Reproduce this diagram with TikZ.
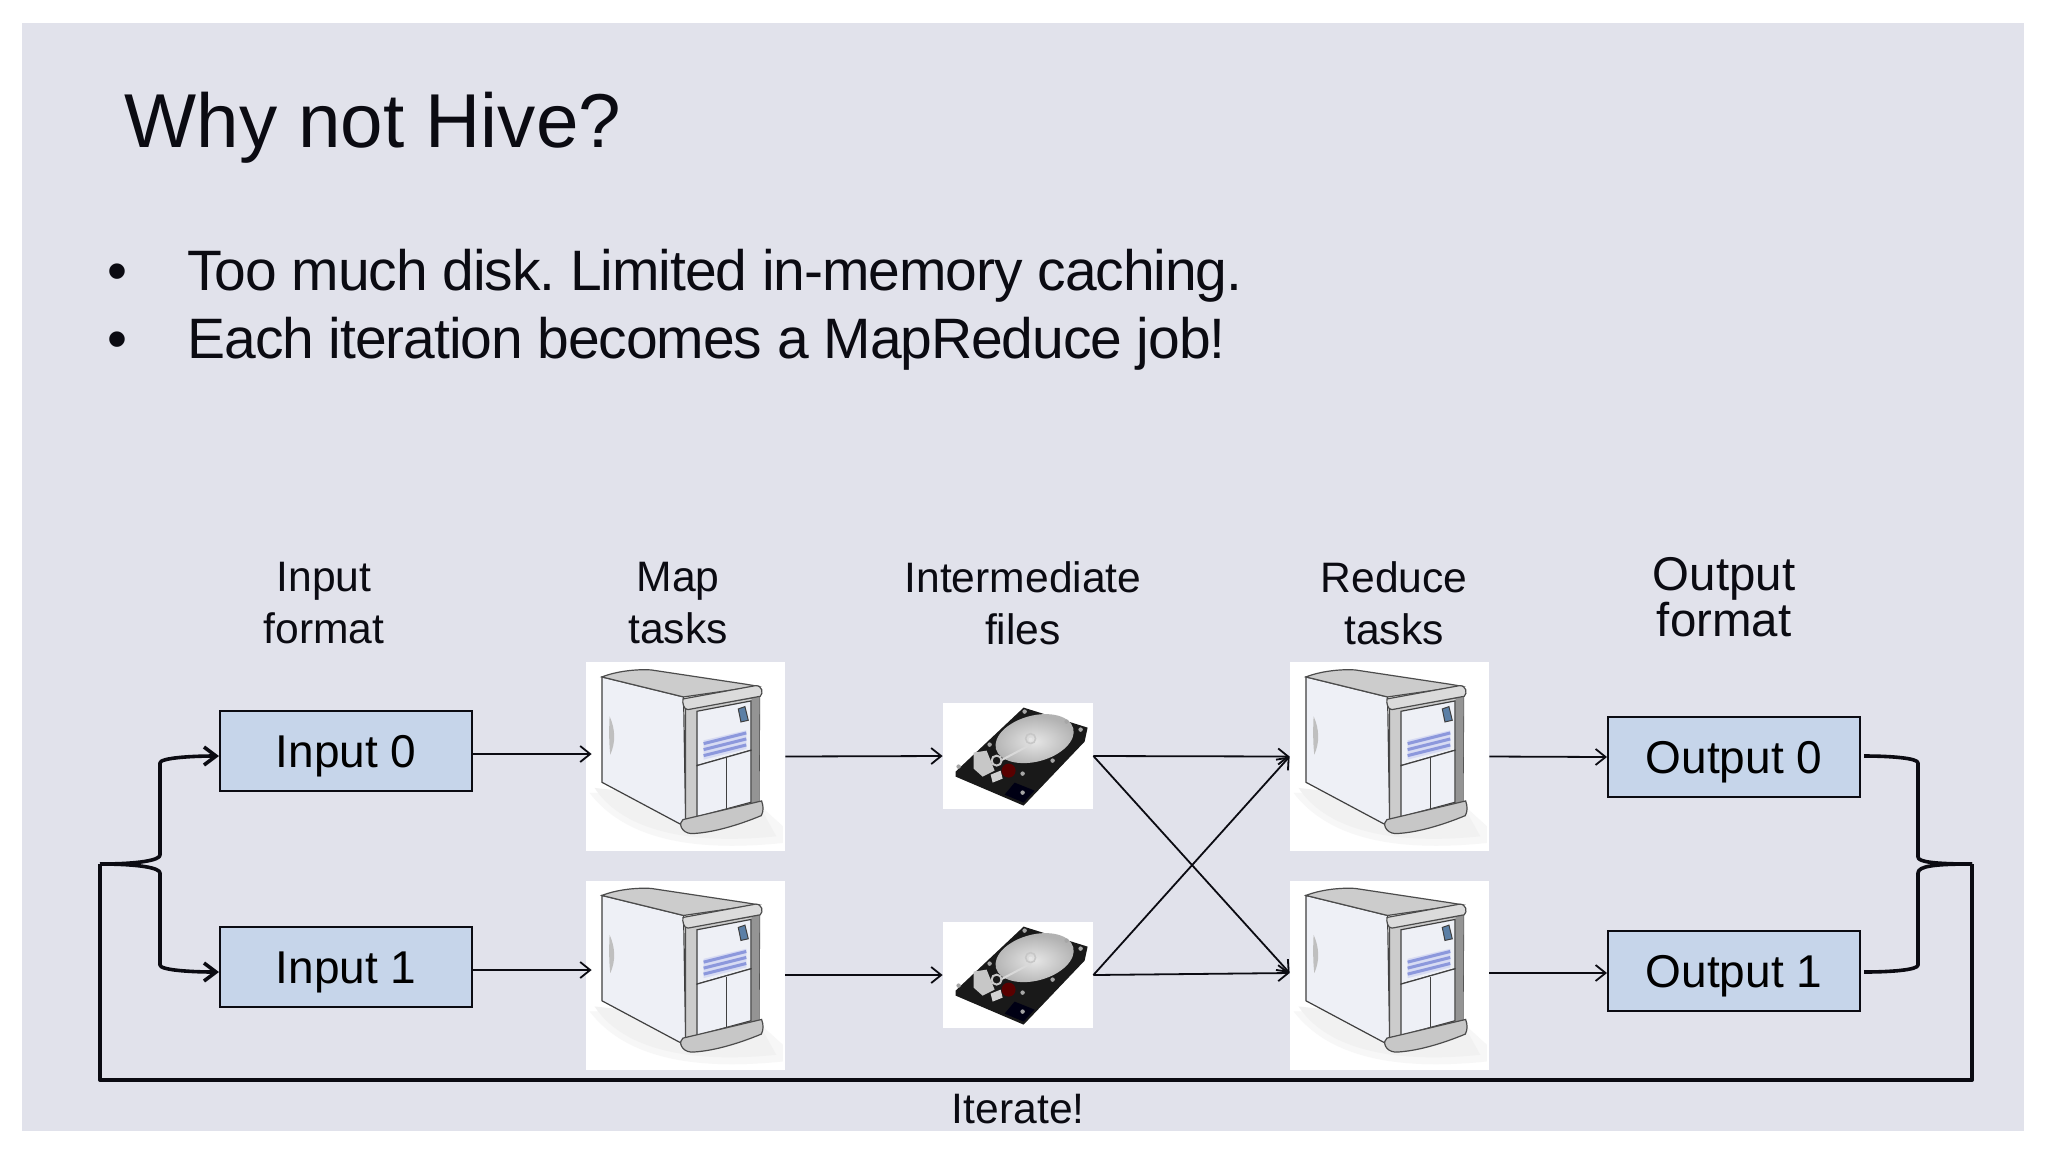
\documentclass[tikz,border=0pt]{standalone}
\usepackage{fontspec}
\setmainfont{Liberation Sans}
\usetikzlibrary{arrows.meta,positioning}
\frenchspacing

\definecolor{slidebg}{HTML}{E1E2EB}
\definecolor{boxblue}{HTML}{C6D5EA}
\definecolor{inkblack}{HTML}{0B0B12}
\definecolor{stripeblue}{HTML}{8C98DC}
\definecolor{caseface}{HTML}{EEF0F6}
\definecolor{switchblue}{HTML}{5B7FA6}

\tikzset{
  iobox/.style={draw=inkblack,line width=1pt,fill=boxblue,minimum width=126pt,minimum height=40pt,inner sep=0pt,
                text height=20pt,text depth=3.5pt,font=\fontsize{23}{26}\selectfont},
  servbox/.style={fill=white,minimum width=99.5pt,minimum height=94.5pt,inner sep=0pt},
  diskbox/.style={fill=white,minimum width=75pt,minimum height=53pt,inner sep=0pt},
  headtxt/.style={align=center,inner sep=0pt,text=inkblack,font=\fontsize{21.3}{26}\selectfont},
  bodytxt/.style={anchor=base west,inner sep=0pt,text=inkblack,font=\fontsize{28.5}{32}\selectfont\addfontfeature{LetterSpace=-1.9}},
  flow/.style={draw=inkblack,line width=0.9pt,-{Straight Barb[length=5pt,width=8pt]}},
  loopline/.style={draw=inkblack,line width=2pt,line join=round},
  server/.pic={
    \begin{scope}[scale=1/3,shift={(-18,-6)}]
      \fill[gray!6] (30,400) .. controls (130,530) and (320,580) .. (610,550) -- (610,500) -- (500,400) -- cycle; %% shadow
      \fill[gray!11] (45,385) .. controls (120,500) and (300,560) .. (590,530) -- (540,440) -- cycle;
      \filldraw[fill=caseface,draw=black!75,line width=.6pt] (67,52) -- (312,112) -- (318,480) -- (303,494) -- (67,368) -- cycle;
      \fill[gray!50] (90,170) .. controls (108,210) and (108,250) .. (92,285) .. controls (88,250) and (88,210) .. (90,170) -- cycle;
      \filldraw[fill=black!20,draw=black!70,line width=.6pt] (67,52) .. controls (110,35) and (170,28) .. (215,31) -- (500,74) -- (535,80) -- (312,112) -- cycle; %% top
      \filldraw[fill=black!20,draw=black!70,line width=.6pt] (318,148) -- (516,115) -- (540,110) -- (538,435) -- (318,482) -- cycle;
      \fill[black!42] (516,115) -- (540,110) -- (538,435) -- (516,440) -- cycle;
      \filldraw[fill=caseface,draw=black!75,line width=.6pt] (352,155) -- (514,124) -- (514,272) -- (352,318) -- cycle;
      \filldraw[fill=caseface,draw=black!75,line width=.6pt] (352,318) -- (514,272) -- (514,428) -- (352,472) -- cycle;
      \draw[black!75,line width=.6pt] (440,296) -- (440,448);
      \fill[stripeblue!35] (372,242) -- (500,212) -- (500,268) -- (372,300) -- cycle;
      \foreach \i in {0,1,2}
        \draw[stripeblue,line width=1.5pt] (372,252+\i*18) -- (500,220+\i*18);
      \filldraw[fill=switchblue,draw=black!75,line width=.5pt] (476,148) -- (496,141) -- (506,182) -- (484,187) -- cycle; %% switch
      \filldraw[fill=black!14,draw=black!70,line width=.6pt] (310,118) -- (528,78) .. controls (548,78) and (552,100) .. (542,110) -- (325,150) .. controls (312,150) and (308,130) .. (310,118) -- cycle;
      \filldraw[fill=black!22,draw=black!70,line width=.6pt] (310,480) -- (546,424) .. controls (552,440) and (552,455) .. (545,468) .. controls (480,495) and (400,520) .. (335,522) .. controls (305,520) and (295,490) .. (310,480) -- cycle;
    \end{scope}
  },
  harddisk/.pic={
    \fill[black!90] (81,5) -- (145,25) -- (142,39) -- (81,103) -- (13,74) -- (13,69) -- cycle;
    \fill[black!60!blue!20!black] (62,92) -- (81,100) -- (92,88) -- (72,80) -- cycle;
    \shade[inner color=black!10,outer color=black!30,rotate around={15:(92,36)}] (92,36) ellipse (40 and 23); %% platter
    \draw[black!22,line width=.8pt] (88,36) circle (5);
    \fill[black!10] (88,37) circle (2);
    \fill[black!22] (31,50) -- (44,48) -- (52,68) -- (40,74) -- (31,66) -- cycle;
    \draw[black!15,line width=1pt] (58,58) -- (88,42);
    \fill[red!35!black] (66,68) circle (7);
    \draw[black!22,line width=1pt] (54,58) circle (5);
    \fill[black!18] (48,72) -- (58,68) -- (60,76) -- (50,80) -- cycle;
    \foreach \sx/\sy in {82/9,110/58,80/90,80/71,47/42,16/64,138/27,124/19}
      \fill[black!35] (\sx,\sy) circle (2.2);
  }
}

\begin{document}
\begin{tikzpicture}[x=.5pt,y=-.5pt,>=Straight Barb]
\useasboundingbox (0,0) rectangle (2048,1152);
\fill[slidebg] (22,23) rectangle (2024,1131);

%% title and bullets
\node[anchor=base west,inner sep=0pt,text=inkblack,font=\fontsize{38.2}{42}\selectfont] (title) at (124,147) {Why not Hive?};
\node[bodytxt] (bulletone) at (107,290) {•};
\node[bodytxt] (bullettwo) at (107,358) {•};
\node[bodytxt] (lineone) at (187,290) {Too much disk. Limited in-memory caching.};
\node[bodytxt] (linetwo) at (187,358) {Each iteration becomes a MapReduce job!};

%% column heads
\node[headtxt] (headinput) at (324,603) {Input\\format};
\node[headtxt] (headmap) at (678,603) {Map\\tasks};
\node[headtxt] (headfiles) at (1023,603) {Intermediate\\files};
\node[headtxt] (headreduce) at (1394,603) {Reduce\\tasks};
\node[headtxt,font=\fontsize{23.7}{23}\selectfont] (headoutput) at (1724,597) {Output\\format};

%% boxes
\node[iobox] (input0) at (346,750.5) {Input 0};
\node[iobox] (input1) at (346,967) {Input 1};
\node[iobox] (output0) at (1734,757) {Output 0};
\node[iobox] (output1) at (1734,971) {Output 1};

\node[servbox] (map0) at (685.5,756.5) {};
\node[servbox] (map1) at (685.5,975) {};
\node[servbox] (reduce0) at (1389.5,756.5) {};
\node[servbox] (reduce1) at (1389.5,975) {};
\node[diskbox] (file0) at (1018,756) {};
\node[diskbox] (file1) at (1018,975) {};

\foreach \n in {map0,map1,reduce0,reduce1}
  \pic at (\n.north west) {server};
\foreach \n in {file0,file1}
  \pic at (\n.north west) {harddisk};

%% flows
\draw[flow] ([yshift=-1.75pt]input0.east) -- ([xshift=3pt,yshift=1.25pt]map0.west);
\draw[flow] ([yshift=-1.5pt]input1.east) -- ([xshift=3pt,yshift=2.5pt]map1.west);
\draw[flow] (map0.east) -- (file0.west);
\draw[flow] (map1.east) -- (file1.west);
\draw[flow] (file0.east) -- (reduce0.west);
\draw[flow] (file0.east) -- ([yshift=1pt]reduce1.west);
\draw[flow] (file1.east) -- (reduce0.west);
\draw[flow] (file1.east) -- ([yshift=1pt]reduce1.west);
\draw[flow] (reduce0.east) -- (output0.west);
\draw[flow] ([yshift=1pt]reduce1.east) -- ([yshift=-1pt]output1.west);

%% iterate loop
\coordinate (tapleft) at (100,864);
\coordinate (tapright) at (1972,864);
\coordinate (cornerleft) at (100,1080);
\coordinate (cornerright) at (1972,1080);
\coordinate (outtap0) at (1864,756);
\coordinate (outtap1) at (1864,972);

\draw[loopline] (tapleft) -- (cornerleft) -- node[pos=.4905,below=6.2pt,inner sep=0pt,text=inkblack,font=\fontsize{21.3}{25}\selectfont] (iterate) {Iterate!} (cornerright) -- (tapright);
\draw[loopline,line width=1.8pt,-{Straight Barb[length=6pt,width=9pt]}] (tapleft) .. controls (140,864) and (160,860) .. (160,855) -- (160,763) .. controls (160,758) and (190,756) .. ([yshift=-2.75pt]input0.west);
\draw[loopline,line width=1.8pt,-{Straight Barb[length=6pt,width=9pt]}] (tapleft) .. controls (140,864) and (160,868) .. (160,873) -- (160,965) .. controls (160,970) and (190,972) .. ([yshift=-2.5pt]input1.west);
\draw[loopline,line width=1.8pt] (outtap0) .. controls (1890,756) and (1918,758) .. (1918,763) -- (1918,857) .. controls (1918,862) and (1935,864) .. (tapright);
\draw[loopline,line width=1.8pt] (outtap1) .. controls (1890,972) and (1918,970) .. (1918,965) -- (1918,873) .. controls (1918,866) and (1935,864) .. (tapright);
\end{tikzpicture}
\end{document}
